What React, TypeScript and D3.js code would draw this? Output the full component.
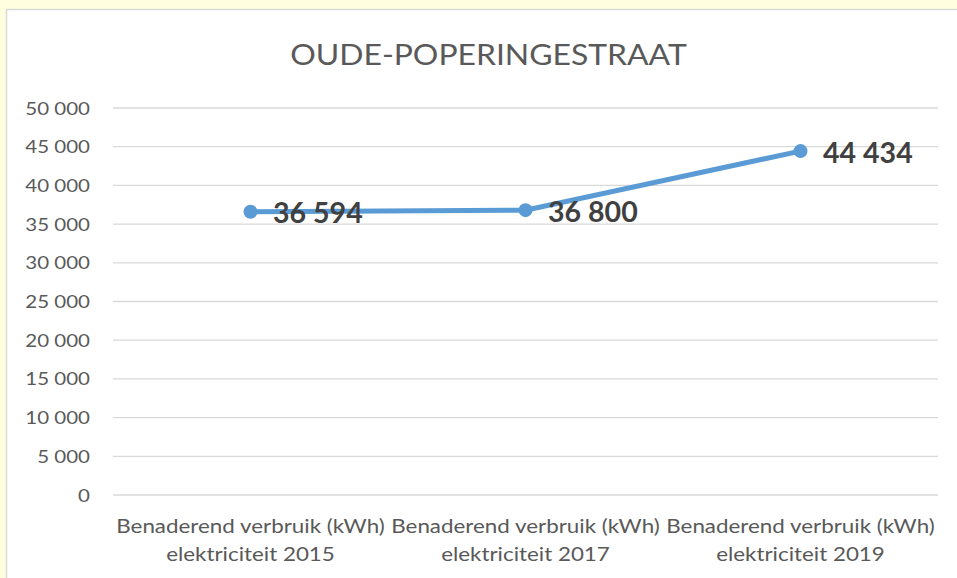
import React from "react";
import * as d3 from "d3";

const categoriesLine1 = [
  "Benaderend verbruik (kWh)",
  "Benaderend verbruik (kWh)",
  "Benaderend verbruik (kWh)",
];
const categoriesLine2 = [
  "elektriciteit 2015",
  "elektriciteit 2017",
  "elektriciteit 2019",
];
const categoryKeys = ["2015", "2017", "2019"];
const values = [36594, 36800, 44434];
const yTicks = [0, 5000, 10000, 15000, 20000, 25000, 30000, 35000, 40000, 45000, 50000];
const title = "OUDE-POPERINGESTRAAT";

const W = 957;
const H = 578;
const FONT = "Lato, Carlito, 'Open Sans', sans-serif";

const fmt = (v: number) => {
  const s = String(v);
  return s.replace(/\B(?=(\d{3})+(?!\d))/g, " ");
};

type STProps = {
  x: number;
  y: number;
  sx: number;
  anchor?: "start" | "middle" | "end";
  size: number;
  weight?: string;
  fill: string;
  children: React.ReactNode;
};

function SText({ x, y, sx, anchor = "start", size, weight = "normal", fill, children }: STProps) {
  return (
    <text
      transform={`translate(${x},${y}) scale(${sx},1)`}
      x={0}
      y={0}
      textAnchor={anchor}
      fontFamily={FONT}
      fontSize={size}
      fontWeight={weight}
      fill={fill}
    >
      {children}
    </text>
  );
}

export default function App() {
  const left = 113;
  const right = 938;
  const top = 108;
  const bottom = 495;

  const x = d3.scaleBand<string>().domain(categoryKeys).range([left, right]);
  const y = d3.scaleLinear().domain([0, 50000]).range([bottom, top]);
  const cxOf = (i: number) => (x(categoryKeys[i]) as number) + x.bandwidth() / 2;

  const line = d3
    .line<number>()
    .x((_, i) => cxOf(i))
    .y((d) => y(d));

  return (
    <svg
      width={W}
      height={H}
      style={{ position: "fixed", left: 0, top: 0, display: "block" }}
    >
      <rect x={0} y={0} width={W} height={H} fill="#FFFFE0" />
      <rect
        x={6.5}
        y={9.5}
        width={W + 10}
        height={H + 10}
        fill="#FFFFFF"
        stroke="#D9D9D9"
        strokeWidth={1.5}
      />
      <SText x={488.5} y={64.5} sx={1.1} anchor="middle" size={29} fill="#595959">
        {title}
      </SText>
      {yTicks.map((t) => (
        <g key={t}>
          <line
            x1={left}
            x2={right}
            y1={y(t)}
            y2={y(t)}
            stroke="#D9D9D9"
            strokeWidth={1.3}
          />
          <SText x={90} y={y(t) + 6.5} sx={1.14} anchor="end" size={18} fill="#595959">
            {fmt(t)}
          </SText>
        </g>
      ))}
      {categoryKeys.map((k, i) => {
        const cx = cxOf(i);
        return (
          <g key={k}>
            <SText x={cx} y={533} sx={1.21} anchor="middle" size={18.5} fill="#595959">
              {categoriesLine1[i]}
            </SText>
            <SText x={cx} y={560.5} sx={1.21} anchor="middle" size={18.5} fill="#595959">
              {categoriesLine2[i]}
            </SText>
          </g>
        );
      })}
      <path
        d={line(values) || ""}
        fill="none"
        stroke="#5B9BD5"
        strokeWidth={5}
        strokeLinecap="round"
      />
      {values.map((v, i) => {
        const cx = cxOf(i);
        return (
          <g key={i}>
            <circle cx={cx} cy={y(v)} r={7} fill="#5B9BD5" />
            <SText x={cx + 22.5} y={y(v) + 11.5} sx={1.02} size={28} weight="bold" fill="#404040">
              {fmt(v)}
            </SText>
          </g>
        );
      })}
    </svg>
  );
}
